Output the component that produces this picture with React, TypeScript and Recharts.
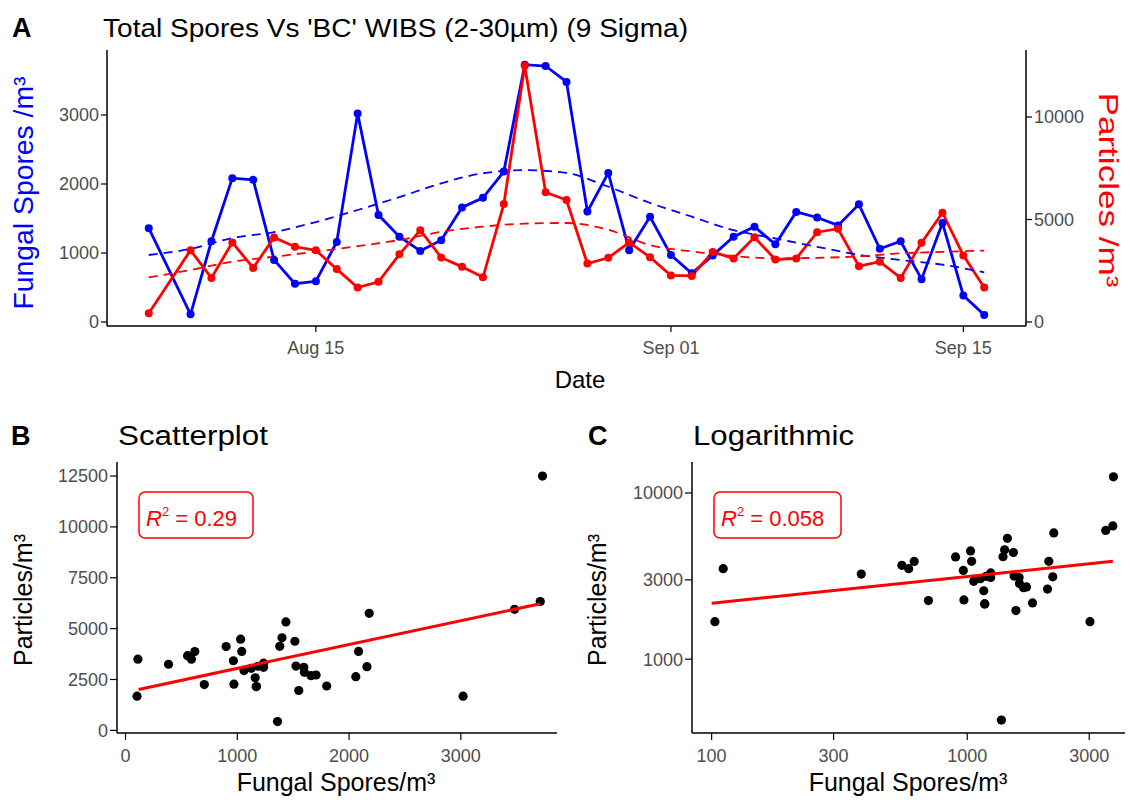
import { ComposedChart, ScatterChart, Line, Scatter, XAxis, YAxis } from 'recharts'

const BLUE = '#0000ff'
const RED = '#ff0000'
const FONT = 'Liberation Sans, Arial, sans-serif'

// days counted from Aug 07 (Aug 08 is absent in the record)
const days = [0, 2, 3, 4, 5, 6, 7, 8, 9, 10, 11, 12, 13, 14, 15, 16, 17, 18, 19, 20, 21, 22, 23, 24, 25, 26, 27, 28, 29, 30, 31, 32, 33, 34, 35, 36, 37, 38, 39, 40]
const fungal = [1360, 111, 1170, 2085, 2060, 900, 555, 590, 1160, 3020, 1550, 1235, 1030, 1185, 1660, 1800, 2180, 3730, 3710, 3480, 1600, 2160, 1040, 1525, 970, 705, 965, 1235, 1380, 1125, 1595, 1515, 1400, 1705, 1060, 1170, 620, 1435, 385, 103]
const particles = [430, 3500, 2150, 3880, 2640, 4120, 3670, 3500, 2580, 1680, 1960, 3300, 4480, 3150, 2690, 2180, 5750, 12500, 6330, 5950, 2850, 3130, 3880, 3160, 2270, 2250, 3420, 3100, 4130, 3050, 3100, 4380, 4550, 2720, 2940, 2150, 3870, 5330, 3250, 1680]

// smoothed (dashed) curves, read every second day
const trendDays = [0, 2, 4, 6, 8, 10, 12, 14, 16, 18, 20, 22, 24, 26, 28, 30, 32, 34, 36, 38, 40]
const fungalTrend = [971, 1060, 1217, 1304, 1449, 1623, 1810, 2010, 2155, 2200, 2160, 1961, 1725, 1526, 1330, 1210, 1090, 975, 899, 830, 720]
const particlesTrend = [2180, 2537, 2943, 3185, 3430, 3700, 4000, 4400, 4650, 4800, 4830, 4500, 3750, 3440, 3220, 3100, 3130, 3200, 3350, 3420, 3480]

const dateTicks = [8, 25, 39]
const dateTickLabels = ['Aug 15', 'Sep 01', 'Sep 15']
const fungalTicks = [0, 1000, 2000, 3000]
const particleTicks = [0, 5000, 10000]

const linXTicks = [0, 1000, 2000, 3000]
const linYTicks = [0, 2500, 5000, 7500, 10000, 12500]
const logXTicks = [100, 300, 1000, 3000]
const logYTicks = [1000, 3000, 10000]

// fitted lines, end points
const linFitX = [117, 3711]
const linFitY = [2010, 6225]
const logFitX = [100, 3710]
const logFitY = [2170, 3880]

const tickStyle = { fill: '#4d4d4d', fontSize: 18, fontFamily: FONT }
const axisStyle = { stroke: '#000', strokeWidth: 1.5 }
const tickLineStyle = { stroke: '#000', strokeWidth: 1.2 }

const rows = Array.from({ length: 41 }, (_, d) => {
  const i = days.indexOf(d)
  const j = trendDays.indexOf(d)
  return {
    d,
    fungal: i >= 0 ? fungal[i] : null,
    particles: i >= 0 ? particles[i] : null,
    fungalTrend: j >= 0 ? fungalTrend[j] : null,
    particlesTrend: j >= 0 ? particlesTrend[j] : null,
  }
})

const pairs = fungal.map((f, i) => ({ x: f, y: particles[i] }))
const linFit = linFitX.map((x, i) => ({ x, y: linFitY[i] }))
const logFit = logFitX.map((x, i) => ({ x, y: logFitY[i] }))

const dotShape = (p: any) => <circle cx={p.cx} cy={p.cy} r={4.6} fill="#000" />
const noShape = () => <g />

function TimeSeries() {
  return (
    <ComposedChart width={1130} height={400} data={rows} margin={{ top: 50, right: 44, bottom: 44, left: 47 }}>
      <XAxis dataKey="d" type="number" domain={[-2, 42]} allowDataOverflow ticks={dateTicks}
        tickFormatter={(v: number) => dateTickLabels[dateTicks.indexOf(v)]}
        height={30} tickSize={6} tickMargin={9} axisLine={axisStyle} tickLine={tickLineStyle} tick={tickStyle} />
      <YAxis yAxisId="l" type="number" domain={[-58, 3942]} allowDataOverflow ticks={fungalTicks}
        width={60} tickSize={6} tickMargin={2} axisLine={axisStyle} tickLine={tickLineStyle} tick={tickStyle} />
      <YAxis yAxisId="r" orientation="right" type="number" domain={[-195, 13268]} allowDataOverflow ticks={particleTicks}
        width={60} tickSize={6} tickMargin={2} axisLine={axisStyle} tickLine={tickLineStyle} tick={tickStyle} />
      <Line yAxisId="l" dataKey="fungal" type="linear" stroke={BLUE} strokeWidth={2.8} connectNulls
        dot={{ r: 4, fill: BLUE, stroke: BLUE, strokeWidth: 0 }} activeDot={false} isAnimationActive={false} />
      <Line yAxisId="r" dataKey="particles" type="linear" stroke={RED} strokeWidth={2.8} connectNulls
        dot={{ r: 4, fill: RED, stroke: RED, strokeWidth: 0 }} activeDot={false} isAnimationActive={false} />
      <Line yAxisId="l" dataKey="fungalTrend" type="monotone" stroke={BLUE} strokeWidth={1.8} strokeDasharray="9 6"
        connectNulls dot={false} activeDot={false} isAnimationActive={false} />
      <Line yAxisId="r" dataKey="particlesTrend" type="monotone" stroke={RED} strokeWidth={1.8} strokeDasharray="9 6"
        connectNulls dot={false} activeDot={false} isAnimationActive={false} />
    </ComposedChart>
  )
}

function LinearPanel() {
  return (
    <ScatterChart width={565} height={403} margin={{ top: 62, right: 8, bottom: 40, left: 57 }}>
      <XAxis dataKey="x" type="number" domain={[-76, 3860]} allowDataOverflow ticks={linXTicks}
        height={30} tickSize={7} tickMargin={9} axisLine={axisStyle} tickLine={tickLineStyle} tick={tickStyle} />
      <YAxis dataKey="y" type="number" domain={[-130, 13190]} allowDataOverflow ticks={linYTicks}
        width={60} tickSize={7} tickMargin={2} axisLine={axisStyle} tickLine={tickLineStyle} tick={tickStyle} />
      <Scatter data={pairs} shape={dotShape} isAnimationActive={false} />
      <Scatter data={linFit} shape={noShape} line={{ stroke: RED, strokeWidth: 3 }} isAnimationActive={false} />
    </ScatterChart>
  )
}

function LogPanel() {
  return (
    <ScatterChart width={565} height={403} margin={{ top: 62, right: 5, bottom: 40, left: 67 }}>
      <XAxis dataKey="x" type="number" scale="log" domain={[83.8, 4140]} allowDataOverflow ticks={logXTicks}
        height={30} tickSize={7} tickMargin={9} axisLine={axisStyle} tickLine={tickLineStyle} tick={tickStyle} />
      <YAxis dataKey="y" type="number" scale="log" domain={[359.5, 15350]} allowDataOverflow ticks={logYTicks}
        width={60} tickSize={7} tickMargin={2} axisLine={axisStyle} tickLine={tickLineStyle} tick={tickStyle} />
      <Scatter data={pairs} shape={dotShape} isAnimationActive={false} />
      <Scatter data={logFit} shape={noShape} line={{ stroke: RED, strokeWidth: 3 }} isAnimationActive={false} />
    </ScatterChart>
  )
}

function R2Box({ x, label }: { x: number; label: string }) {
  return (
    <g>
      <rect x={x} y={492} width={label.length > 4 ? 127 : 114} height={46} rx={6} fill="#fff" stroke={RED} strokeWidth={1.5} />
      <text x={x + 7} y={526} fontSize={22} fill={RED}>
        <tspan fontStyle="italic">R</tspan>
        <tspan dy={-10} fontSize={13}>2</tspan>
        <tspan dy={10}>{' = ' + label}</tspan>
      </text>
    </g>
  )
}

export default function App() {
  return (
    <div style={{ position: 'absolute', left: 0, top: 0, width: 1130, height: 803, background: '#fff', fontFamily: FONT }}>
      <div style={{ position: 'absolute', left: 0, top: 0 }}><TimeSeries /></div>
      <div style={{ position: 'absolute', left: 0, top: 400 }}><LinearPanel /></div>
      <div style={{ position: 'absolute', left: 565, top: 400 }}><LogPanel /></div>
      <svg width={1130} height={803} style={{ position: 'absolute', left: 0, top: 0, pointerEvents: 'none' }} fontFamily={FONT}>
        <text x={12} y={37} fontSize={27} fontWeight="bold">A</text>
        <text x={103} y={37} fontSize={26} textLength={585} lengthAdjust="spacingAndGlyphs">Total Spores Vs 'BC' WIBS (2-30µm) (9 Sigma)</text>
        <text transform="translate(33,193) rotate(-90)" textAnchor="middle" fontSize={28} fill={BLUE} textLength={233} lengthAdjust="spacingAndGlyphs">Fungal Spores /m³</text>
        <text transform="translate(1099,190) rotate(90)" textAnchor="middle" fontSize={28} fill={RED} textLength={195} lengthAdjust="spacingAndGlyphs">Particles /m³</text>
        <text x={580} y={388} textAnchor="middle" fontSize={24}>Date</text>

        <text x={11} y={445} fontSize={27} fontWeight="bold">B</text>
        <text x={118} y={445} fontSize={27} textLength={150} lengthAdjust="spacingAndGlyphs">Scatterplot</text>
        <text transform="translate(32,600) rotate(-90)" textAnchor="middle" fontSize={25}>Particles/m³</text>
        <text x={336} y={791} textAnchor="middle" fontSize={25}>Fungal Spores/m³</text>
        <R2Box x={139} label="0.29" />

        <text x={588} y={445} fontSize={27} fontWeight="bold">C</text>
        <text x={693} y={445} fontSize={27} textLength={161} lengthAdjust="spacingAndGlyphs">Logarithmic</text>
        <text transform="translate(606,600) rotate(-90)" textAnchor="middle" fontSize={25}>Particles/m³</text>
        <text x={908} y={791} textAnchor="middle" fontSize={25}>Fungal Spores/m³</text>
        <R2Box x={714} label="0.058" />
      </svg>
    </div>
  )
}
